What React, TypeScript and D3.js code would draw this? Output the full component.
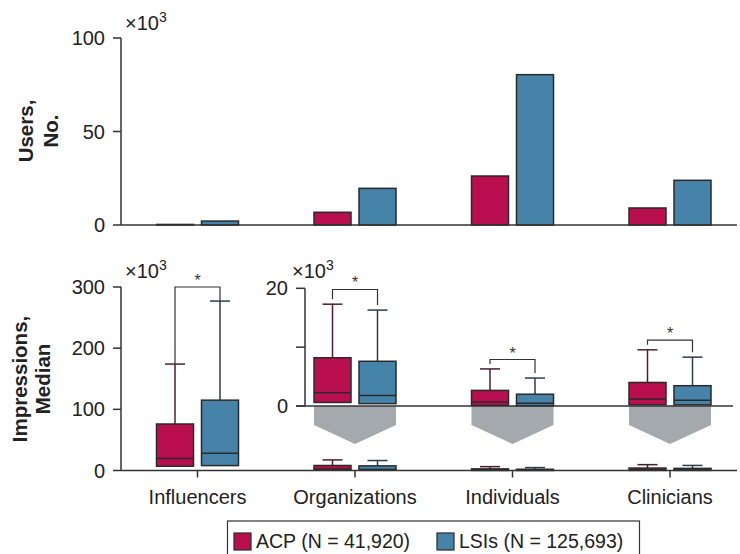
import React from "react";
import * as d3 from "d3";

// Values in thousands (×10³)
const categories = ["Influencers", "Organizations", "Individuals", "Clinicians"];
const seriesNames = ["ACP", "LSIs"];
const legendLabels = ["ACP (N = 41,920)", "LSIs (N = 125,693)"];

const usersAcp = [0.3, 6.8, 26.2, 9.1];
const usersLsi = [2.1, 19.6, 80.4, 23.9];

const impressionsAcp = [
  { q1: 7, median: 19.6, q3: 76, upper: 174 },
  { q1: 0.6, median: 2.25, q3: 8.2, upper: 17.3 },
  { q1: 0.1, median: 0.7, q3: 2.65, upper: 6.3 },
  { q1: 0.2, median: 1.2, q3: 4.0, upper: 9.55 },
];
const impressionsLsi = [
  { q1: 8, median: 28, q3: 115, upper: 277 },
  { q1: 0.4, median: 1.8, q3: 7.6, upper: 16.3 },
  { q1: 0.05, median: 0.45, q3: 2.0, upper: 4.75 },
  { q1: 0.2, median: 0.97, q3: 3.45, upper: 8.3 },
];
const bracketLevels = [300, 19.8, 7.9, 11.2];

const usersTicks = [0, 50, 100];
const impressionTicks = [0, 100, 200, 300];
const insetTicks = [0, 10, 20];
const insetLabelled = [0, 20];

const colors: Record<string, string> = { ACP: "#b90f4e", LSIs: "#4683a9" };
const whiskerColors: Record<string, string> = { ACP: "#4a2030", LSIs: "#2c3d4a" };
const FONT = "'Liberation Sans', Arial, Helvetica, sans-serif";
const INK = "#2a2a2a";

export default function App() {
  const W = 740, H = 554;
  const axisX = 121, axisEnd = 737;

  const x = d3.scalePoint<string>().domain(categories).range([197.5, 670]);
  const inner = d3.scaleBand<string>().domain(seriesNames).range([-41, 41]).paddingInner(8 / 45);
  const bw = inner.bandwidth();

  const yUsers = d3.scaleLinear().domain([0, 100]).range([225, 38]);
  const yImp = d3.scaleLinear().domain([0, 300]).range([470.5, 287]);
  const yInset = d3.scaleLinear().domain([0, 20]).range([406, 288.3]);
  const insetAxisX = 305;

  const boxSets = [impressionsAcp, impressionsLsi];

  const renderBox = (
    key: string,
    cx: number,
    s: { q1: number; median: number; q3: number; upper: number },
    y: d3.ScaleLinear<number, number>,
    series: string
  ) => (
    <g key={key}>
      <line x1={cx} x2={cx} y1={y(s.q3)} y2={y(s.upper)} stroke={whiskerColors[series]} strokeWidth={1.5} />
      <line x1={cx - 10} x2={cx + 10} y1={y(s.upper)} y2={y(s.upper)} stroke={whiskerColors[series]} strokeWidth={1.5} />
      <rect
        x={cx - bw / 2}
        y={y(s.q3)}
        width={bw}
        height={Math.max(0.8, y(s.q1) - y(s.q3))}
        fill={colors[series]}
        stroke={INK}
        strokeWidth={1.5}
      />
      <line x1={cx - bw / 2} x2={cx + bw / 2} y1={y(s.median)} y2={y(s.median)} stroke={INK} strokeWidth={1.5} />
    </g>
  );

  const renderBracket = (i: number, y: d3.ScaleLinear<number, number>, gap: number) => {
    const c = x(categories[i])!;
    const xa = c + inner("ACP")! + bw / 2;
    const xb = c + inner("LSIs")! + bw / 2;
    const yl = y(bracketLevels[i]);
    const ya = y(impressionsAcp[i].upper) - gap;
    const yb = y(impressionsLsi[i].upper) - gap;
    return (
      <g key={"br" + i}>
        <path d={`M${xa},${ya}V${yl}H${xb}V${yb}`} fill="none" stroke="#333" strokeWidth={1.2} />
        <text x={(xa + xb) / 2} y={yl - 1} textAnchor="middle" fontSize={16} fontFamily={FONT} fill="#333">*</text>
      </g>
    );
  };

  const exponent = (xPos: number, yPos: number) => (
    <text x={xPos} y={yPos} fontSize={20} fontFamily={FONT} fill="#222">
      ×10<tspan fontSize={14} dy={-8}>3</tspan>
    </text>
  );

  return (
    <svg width={W} height={H} style={{ position: "absolute", left: 0, top: 0, background: "#fff" }}>
      {/* ---------- Top panel: users ---------- */}
      <g fontFamily={FONT}>
        <text transform="translate(33,131) rotate(-90)" textAnchor="middle" fontSize={20.5} fontWeight="bold" fill="#222">Users,</text>
        <text transform="translate(58,131) rotate(-90)" textAnchor="middle" fontSize={20.5} fontWeight="bold" fill="#222">No.</text>
        {exponent(125, 30)}
        <line x1={axisX} x2={axisX} y1={yUsers(100)} y2={yUsers(0)} stroke="#333" strokeWidth={1.5} />
        {usersTicks.map(t => (
          <g key={"ut" + t}>
            <line x1={axisX - 8} x2={axisX} y1={yUsers(t)} y2={yUsers(t)} stroke="#333" strokeWidth={1.5} />
            <text x={105} y={yUsers(t)} dy="0.35em" textAnchor="end" fontSize={20} fill="#222">{t}</text>
          </g>
        ))}
        {categories.map((c, i) =>
          seriesNames.map(s => {
            const v = s === "ACP" ? usersAcp[i] : usersLsi[i];
            return (
              <rect
                key={c + s}
                x={x(c)! + inner(s)!}
                y={yUsers(v)}
                width={bw}
                height={yUsers(0) - yUsers(v)}
                fill={colors[s]}
                stroke={INK}
                strokeWidth={1.5}
              />
            );
          })
        )}
        <line x1={axisX} x2={axisEnd} y1={yUsers(0)} y2={yUsers(0)} stroke="#333" strokeWidth={1.5} />
      </g>

      {/* ---------- Bottom panel: impressions ---------- */}
      <g fontFamily={FONT}>
        <text transform="translate(27,379) rotate(-90)" textAnchor="middle" fontSize={20.5} fontWeight="bold" fill="#222">Impressions,</text>
        <text transform="translate(50,379) rotate(-90)" textAnchor="middle" fontSize={20.5} fontWeight="bold" fill="#222">Median</text>
        {exponent(125, 278)}
        <line x1={axisX} x2={axisX} y1={yImp(300)} y2={yImp(0)} stroke="#333" strokeWidth={1.5} />
        {impressionTicks.map(t => (
          <g key={"it" + t}>
            <line x1={axisX - 8} x2={axisX} y1={yImp(t)} y2={yImp(t)} stroke="#333" strokeWidth={1.5} />
            <text x={105} y={yImp(t)} dy="0.35em" textAnchor="end" fontSize={20} fill="#222">{t}</text>
          </g>
        ))}

        {/* boxes at full scale */}
        {categories.map((c, i) =>
          seriesNames.map((s, k) => renderBox("m" + c + s, x(c)! + inner(s)! + bw / 2, boxSets[k][i], yImp, s))
        )}
        {renderBracket(0, yImp, 0)}

        {/* inset magnification for small categories */}
        {categories.slice(1).map(c => {
          const cx = x(c)!;
          const top = yInset(0);
          return (
            <polygon
              key={"chev" + c}
              points={`${cx - 41},${top} ${cx + 41},${top} ${cx + 41},${top + 19} ${cx},${top + 38} ${cx - 41},${top + 19}`}
              fill="#a3a9ac"
            />
          );
        })}
        <line x1={insetAxisX} x2={insetAxisX} y1={yInset(20)} y2={yInset(0)} stroke="#333" strokeWidth={1.5} />
        {insetTicks.map(t => (
          <line key={"int" + t} x1={insetAxisX - 9} x2={insetAxisX} y1={yInset(t)} y2={yInset(t)} stroke="#333" strokeWidth={1.5} />
        ))}
        {insetLabelled.map(t => (
          <text key={"inl" + t} x={288} y={yInset(t)} dy="0.35em" textAnchor="end" fontSize={20} fill="#222">{t}</text>
        ))}
        {exponent(292, 278)}
        {categories.slice(1).map(c => {
          const i = categories.indexOf(c);
          return seriesNames.map((s, k) => renderBox("in" + c + s, x(c)! + inner(s)! + bw / 2, boxSets[k][i], yInset, s));
        })}
        <line x1={insetAxisX - 9} x2={733} y1={yInset(0)} y2={yInset(0)} stroke="#333" strokeWidth={1.5} />
        {[1, 2, 3].map(i => renderBracket(i, yInset, 5))}

        {/* x axis */}
        <line x1={axisX} x2={axisEnd} y1={yImp(0)} y2={yImp(0)} stroke="#333" strokeWidth={1.5} />
        {categories.map(c => (
          <g key={"xt" + c}>
            <line x1={x(c)!} x2={x(c)!} y1={yImp(0)} y2={yImp(0) + 7} stroke="#333" strokeWidth={1.5} />
            <text x={x(c)!} y={504} textAnchor="middle" fontSize={20} fill="#222">{c}</text>
          </g>
        ))}
      </g>

      {/* ---------- Legend ---------- */}
      <g fontFamily={FONT}>
        <rect x={227.5} y={521} width={412} height={50} fill="#fff" stroke="#333" strokeWidth={1.2} />
        {seriesNames.map((s, k) => {
          const lx = k === 0 ? 234 : 437;
          return (
            <g key={"lg" + s}>
              <rect x={lx} y={533} width={17} height={17} fill={colors[s]} stroke={INK} strokeWidth={1.2} />
              <text x={lx + 22} y={548} fontSize={19.5} fill="#222">{legendLabels[k]}</text>
            </g>
          );
        })}
      </g>
    </svg>
  );
}
